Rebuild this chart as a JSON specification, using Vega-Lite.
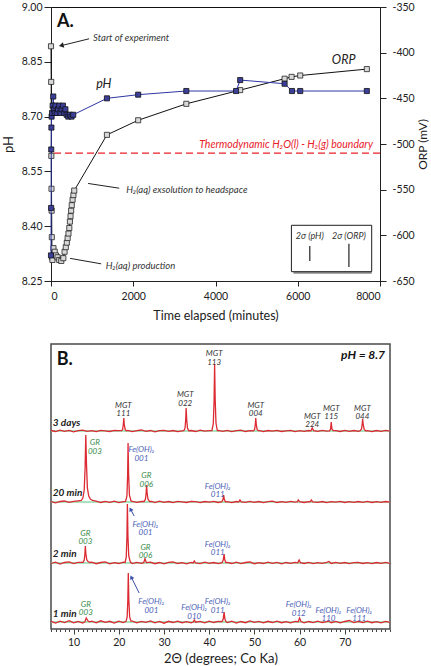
{
  "$schema": "https://vega.github.io/schema/vega-lite/v6.json",
  "padding": {"left": 1, "top": 1, "right": 0, "bottom": 0},
  "config": {
    "font": "Lato",
    "axis": {"grid": false, "labelFont": "Lato", "titleFont": "Lato", "labelColor": "#222", "titleColor": "#222", "tickColor": "#222", "domainColor": "#222"},
    "view": {"stroke": "#111"}
  },
  "datasets": {
    "ph": [
      {"t":0,"p":8.32},{"t":3,"p":8.45},{"t":6,"p":8.61},{"t":10,"p":8.67},{"t":15,"p":8.70},{"t":25,"p":8.71},{"t":40,"p":8.73},{"t":55,"p":8.755},{"t":70,"p":8.72},{"t":90,"p":8.71},{"t":110,"p":8.73},{"t":140,"p":8.71},{"t":170,"p":8.72},{"t":200,"p":8.73},{"t":230,"p":8.71},{"t":260,"p":8.72},{"t":290,"p":8.73},{"t":320,"p":8.71},{"t":350,"p":8.72},{"t":380,"p":8.705},{"t":420,"p":8.70},{"t":460,"p":8.705},{"t":500,"p":8.70},{"t":540,"p":8.705},{"t":1360,"p":8.75},{"t":2120,"p":8.76},{"t":3290,"p":8.77},{"t":4500,"p":8.77},{"t":4600,"p":8.80},{"t":5680,"p":8.79},{"t":5860,"p":8.77},{"t":6060,"p":8.77},{"t":7680,"p":8.77}
    ],
    "orp": [
      {"t":0,"o":-393},{"t":5,"o":-432},{"t":8,"o":-513},{"t":12,"o":-549},{"t":16,"o":-573},{"t":20,"o":-602},{"t":25,"o":-624},{"t":35,"o":-627},{"t":60,"o":-614},{"t":90,"o":-618},{"t":120,"o":-622},{"t":160,"o":-624},{"t":200,"o":-627},{"t":250,"o":-628},{"t":300,"o":-625},{"t":330,"o":-618},{"t":360,"o":-613},{"t":385,"o":-608},{"t":405,"o":-603},{"t":425,"o":-598},{"t":445,"o":-592},{"t":460,"o":-585},{"t":475,"o":-579},{"t":490,"o":-573},{"t":505,"o":-567},{"t":525,"o":-561},{"t":545,"o":-556},{"t":565,"o":-551},{"t":1360,"o":-490},{"t":2120,"o":-474},{"t":3290,"o":-456},{"t":4600,"o":-441},{"t":5680,"o":-428.5},{"t":5850,"o":-426.5},{"t":6060,"o":-425},{"t":7680,"o":-418}
    ],
    "A_letter": [{"t":146,"p":8.959,"txt":"A."}],
    "A_notes": [{"t":1024,"p":8.916,"txt":"Start of experiment"},{"t":1829,"p":8.498,"txt":"H₂(aq) exsolution to headspace"},{"t":1334,"p":8.291,"txt":"H₂(aq) production"}],
    "A_series": [{"t":1098,"p":8.79,"txt":"pH"},{"t":6829,"p":8.854,"txt":"ORP"}],
    "A_bound": [{"t":7829,"p":8.6215,"txt":"Thermodynamic H₂O(l) - H₂(g) boundary"}],
    "A_hline": [{"p":8.6}],
    "A_leaders": [{"t":927,"p":8.913,"t2":260,"p2":8.8945},{"t":902,"p":8.517,"t2":1659,"p2":8.504},{"t":463,"p":8.312,"t2":1220,"p2":8.297}],
    "A_head": [{"t":250,"p":8.8945}],
    "A_box": [{"t":5846,"t2":7798,"p":8.2755,"p2":8.4025}],
    "A_sig_txt": [{"t":6293,"p":8.373,"txt":"2σ (pH)"},{"t":7244,"p":8.373,"txt":"2σ (ORP)"}],
    "A_sig_bar": [{"t":6293,"p":8.305,"p2":8.346},{"t":7244,"p":8.288,"p2":8.352}],
    "xrd": [
      {"s":"3d","x":5,"y":0.5},{"s":"3d","x":6,"y":-0.5},{"s":"3d","x":7,"y":0.8},{"s":"3d","x":8,"y":-0.3},{"s":"3d","x":9,"y":0.6},{"s":"3d","x":10,"y":-0.8},{"s":"3d","x":11,"y":0.4},{"s":"3d","x":12,"y":0.9},{"s":"3d","x":13,"y":-0.4},{"s":"3d","x":14,"y":0.3},{"s":"3d","x":15,"y":-0.7},{"s":"3d","x":16,"y":0.6},{"s":"3d","x":17,"y":0.2},{"s":"3d","x":18,"y":-0.5},{"s":"3d","x":19,"y":0.7},{"s":"3d","x":20,"y":0.3},
      {"s":"3d","x":20.6,"y":0.3},{"s":"3d","x":20.85,"y":1.6},{"s":"3d","x":21.0,"y":6.5},{"s":"3d","x":21.1,"y":13},{"s":"3d","x":21.22,"y":6.5},{"s":"3d","x":21.4,"y":1.6},{"s":"3d","x":21.65,"y":0.2},
      {"s":"3d","x":22,"y":0.6},{"s":"3d","x":23,"y":-0.6},{"s":"3d","x":24,"y":0.4},{"s":"3d","x":25,"y":1.0},{"s":"3d","x":26,"y":-0.3},{"s":"3d","x":27,"y":0.5},{"s":"3d","x":28,"y":-0.8},{"s":"3d","x":29,"y":0.3},{"s":"3d","x":30,"y":0.7},{"s":"3d","x":31,"y":-0.4},{"s":"3d","x":32,"y":0.5},{"s":"3d","x":33,"y":-0.6},{"s":"3d","x":34,"y":0.2},
      {"s":"3d","x":34.4,"y":0.4},{"s":"3d","x":34.65,"y":2.8},{"s":"3d","x":34.8,"y":11},{"s":"3d","x":34.9,"y":23},{"s":"3d","x":35.02,"y":11.5},{"s":"3d","x":35.2,"y":2.8},{"s":"3d","x":35.5,"y":0.3},
      {"s":"3d","x":36,"y":0.5},{"s":"3d","x":37,"y":-0.5},{"s":"3d","x":38,"y":0.8},{"s":"3d","x":39,"y":-0.2},{"s":"3d","x":40,"y":0.4},
      {"s":"3d","x":40.6,"y":0.5},{"s":"3d","x":40.9,"y":7},{"s":"3d","x":41.08,"y":30},{"s":"3d","x":41.2,"y":67},{"s":"3d","x":41.32,"y":32},{"s":"3d","x":41.5,"y":8},{"s":"3d","x":41.8,"y":0.5},
      {"s":"3d","x":42,"y":0.6},{"s":"3d","x":43,"y":-0.4},{"s":"3d","x":44,"y":0.7},{"s":"3d","x":45,"y":-0.6},{"s":"3d","x":46,"y":0.3},{"s":"3d","x":47,"y":0.8},{"s":"3d","x":48,"y":-0.5},{"s":"3d","x":49,"y":0.4},
      {"s":"3d","x":49.8,"y":0.2},{"s":"3d","x":50.05,"y":1.6},{"s":"3d","x":50.2,"y":6.5},{"s":"3d","x":50.3,"y":13},{"s":"3d","x":50.42,"y":6.5},{"s":"3d","x":50.6,"y":1.6},{"s":"3d","x":50.85,"y":0.3},
      {"s":"3d","x":51.2,"y":0.3},{"s":"3d","x":52,"y":-0.7},{"s":"3d","x":53,"y":0.5},{"s":"3d","x":54,"y":-0.2},{"s":"3d","x":55,"y":0.6},{"s":"3d","x":56,"y":-0.5},{"s":"3d","x":57,"y":0.2},{"s":"3d","x":58,"y":0.7},{"s":"3d","x":59,"y":-0.6},{"s":"3d","x":60,"y":0.4},{"s":"3d","x":61,"y":-0.3},{"s":"3d","x":62,"y":0.5},
      {"s":"3d","x":62.5,"y":0.2},{"s":"3d","x":62.8,"y":3},{"s":"3d","x":63.1,"y":0.4},
      {"s":"3d","x":64,"y":-0.4},{"s":"3d","x":65,"y":0.6},{"s":"3d","x":66,"y":-0.2},
      {"s":"3d","x":66.6,"y":0.2},{"s":"3d","x":66.85,"y":2},{"s":"3d","x":67.0,"y":9},{"s":"3d","x":67.15,"y":2},{"s":"3d","x":67.45,"y":0.3},
      {"s":"3d","x":68,"y":0.4},{"s":"3d","x":69,"y":-0.5},{"s":"3d","x":70,"y":0.6},{"s":"3d","x":71,"y":-0.3},{"s":"3d","x":72,"y":0.5},{"s":"3d","x":73,"y":-0.4},
      {"s":"3d","x":73.4,"y":0.3},{"s":"3d","x":73.7,"y":2},{"s":"3d","x":73.85,"y":7},{"s":"3d","x":73.95,"y":12},{"s":"3d","x":74.08,"y":6},{"s":"3d","x":74.3,"y":1.5},{"s":"3d","x":74.6,"y":0.2},
      {"s":"3d","x":75,"y":0.3},{"s":"3d","x":76,"y":-0.6},{"s":"3d","x":77,"y":0.5},{"s":"3d","x":78,"y":-0.3},{"s":"3d","x":79,"y":0.6},{"s":"3d","x":80,"y":-0.2},

      {"s":"20m","x":5,"y":0.3},{"s":"20m","x":6,"y":-0.8},{"s":"20m","x":7,"y":0.5},{"s":"20m","x":8,"y":1.0},{"s":"20m","x":9,"y":-0.4},{"s":"20m","x":10,"y":0.6},{"s":"20m","x":11,"y":1.2},
      {"s":"20m","x":11.7,"y":1.5},{"s":"20m","x":12.05,"y":4},{"s":"20m","x":12.35,"y":12},{"s":"20m","x":12.55,"y":35},{"s":"20m","x":12.7,"y":67},{"s":"20m","x":12.85,"y":38},{"s":"20m","x":13.05,"y":14},{"s":"20m","x":13.35,"y":6},{"s":"20m","x":13.7,"y":3},{"s":"20m","x":14.2,"y":1.5},
      {"s":"20m","x":15,"y":0.8},{"s":"20m","x":16,"y":-0.5},{"s":"20m","x":17,"y":0.6},{"s":"20m","x":18,"y":-0.3},{"s":"20m","x":19,"y":0.9},{"s":"20m","x":20,"y":-0.6},{"s":"20m","x":21,"y":0.4},
      {"s":"20m","x":21.5,"y":0.6},{"s":"20m","x":21.8,"y":6},{"s":"20m","x":21.95,"y":26},{"s":"20m","x":22.05,"y":59},{"s":"20m","x":22.17,"y":28},{"s":"20m","x":22.35,"y":7},{"s":"20m","x":22.7,"y":1},
      {"s":"20m","x":23,"y":0.7},{"s":"20m","x":24,"y":-0.4},{"s":"20m","x":25,"y":0.5},
      {"s":"20m","x":25.6,"y":0.5},{"s":"20m","x":25.9,"y":3},{"s":"20m","x":26.05,"y":9},{"s":"20m","x":26.15,"y":17},{"s":"20m","x":26.27,"y":9},{"s":"20m","x":26.45,"y":3},{"s":"20m","x":26.8,"y":0.5},
      {"s":"20m","x":27.3,"y":0.6},{"s":"20m","x":28,"y":-0.5},{"s":"20m","x":29,"y":0.8},{"s":"20m","x":30,"y":-0.3},{"s":"20m","x":31,"y":0.5},{"s":"20m","x":32,"y":-0.7},{"s":"20m","x":33,"y":0.6},{"s":"20m","x":34,"y":0.2},{"s":"20m","x":35,"y":-0.5},{"s":"20m","x":36,"y":0.7},{"s":"20m","x":37,"y":0.3},{"s":"20m","x":38,"y":-0.6},{"s":"20m","x":39,"y":0.5},{"s":"20m","x":40,"y":-0.2},{"s":"20m","x":41,"y":0.7},{"s":"20m","x":42,"y":-0.5},
      {"s":"20m","x":42.8,"y":0.3},{"s":"20m","x":43.05,"y":2.5},{"s":"20m","x":43.2,"y":7},{"s":"20m","x":43.35,"y":2.5},{"s":"20m","x":43.6,"y":0.2},
      {"s":"20m","x":44,"y":0.4},{"s":"20m","x":45,"y":-0.6},{"s":"20m","x":46,"y":0.5},
      {"s":"20m","x":46.55,"y":0.2},{"s":"20m","x":46.8,"y":2},{"s":"20m","x":47.1,"y":0.1},
      {"s":"20m","x":48,"y":-0.4},{"s":"20m","x":49,"y":0.6},{"s":"20m","x":50,"y":-0.3},{"s":"20m","x":51,"y":0.5},{"s":"20m","x":52,"y":-0.6},{"s":"20m","x":53,"y":0.4},{"s":"20m","x":54,"y":0.8},{"s":"20m","x":55,"y":-0.5},{"s":"20m","x":56,"y":0.3},{"s":"20m","x":57,"y":-0.4},{"s":"20m","x":58,"y":0.6},{"s":"20m","x":59,"y":-0.2},
      {"s":"20m","x":59.45,"y":0},{"s":"20m","x":59.7,"y":2},{"s":"20m","x":60.0,"y":0.3},
      {"s":"20m","x":61,"y":-0.5},{"s":"20m","x":62,"y":0.4},
      {"s":"20m","x":62.35,"y":0.2},{"s":"20m","x":62.6,"y":2},{"s":"20m","x":62.9,"y":0.1},
      {"s":"20m","x":64,"y":-0.3},{"s":"20m","x":65,"y":0.5},{"s":"20m","x":66,"y":-0.6},{"s":"20m","x":67,"y":0.4},{"s":"20m","x":68,"y":-0.2},{"s":"20m","x":69,"y":0.6},{"s":"20m","x":70,"y":-0.5},{"s":"20m","x":71,"y":0.3},{"s":"20m","x":72,"y":-0.4},{"s":"20m","x":73,"y":0.5},{"s":"20m","x":74,"y":-0.3},{"s":"20m","x":75,"y":0.6},{"s":"20m","x":76,"y":-0.5},{"s":"20m","x":77,"y":0.3},{"s":"20m","x":78,"y":-0.4},{"s":"20m","x":79,"y":0.5},{"s":"20m","x":80,"y":-0.2},

      {"s":"2m","x":5,"y":-0.5},{"s":"2m","x":6,"y":0.8},{"s":"2m","x":7,"y":-1.0},{"s":"2m","x":8,"y":0.5},{"s":"2m","x":9,"y":1.2},{"s":"2m","x":10,"y":-0.6},{"s":"2m","x":11,"y":0.7},
      {"s":"2m","x":12.1,"y":0.6},{"s":"2m","x":12.35,"y":3},{"s":"2m","x":12.5,"y":9},{"s":"2m","x":12.6,"y":17},{"s":"2m","x":12.72,"y":9},{"s":"2m","x":12.9,"y":3.5},{"s":"2m","x":13.2,"y":1.5},{"s":"2m","x":13.6,"y":0.5},
      {"s":"2m","x":14,"y":0.8},{"s":"2m","x":15,"y":-0.7},{"s":"2m","x":16,"y":0.5},{"s":"2m","x":17,"y":1.1},{"s":"2m","x":18,"y":-0.8},{"s":"2m","x":19,"y":0.4},{"s":"2m","x":20,"y":-0.5},{"s":"2m","x":21,"y":0.9},
      {"s":"2m","x":21.4,"y":0.5},{"s":"2m","x":21.65,"y":6},{"s":"2m","x":21.8,"y":26},{"s":"2m","x":21.9,"y":59},{"s":"2m","x":22.02,"y":27},{"s":"2m","x":22.2,"y":7},{"s":"2m","x":22.55,"y":1},
      {"s":"2m","x":23,"y":-0.6},{"s":"2m","x":24,"y":0.7},{"s":"2m","x":25,"y":-0.4},
      {"s":"2m","x":25.5,"y":0.3},{"s":"2m","x":25.8,"y":4.3},{"s":"2m","x":26.1,"y":0.4},
      {"s":"2m","x":27,"y":0.8},{"s":"2m","x":28,"y":-0.7},{"s":"2m","x":29,"y":0.5},{"s":"2m","x":30,"y":-0.9},{"s":"2m","x":31,"y":0.6},{"s":"2m","x":32,"y":1.0},{"s":"2m","x":33,"y":-0.5},{"s":"2m","x":34,"y":0.4},{"s":"2m","x":35,"y":-0.8},{"s":"2m","x":36,"y":0.6},
      {"s":"2m","x":36.45,"y":0.1},{"s":"2m","x":36.7,"y":2},{"s":"2m","x":37.0,"y":0},
      {"s":"2m","x":38,"y":-0.6},{"s":"2m","x":39,"y":0.9},{"s":"2m","x":40,"y":-0.4},{"s":"2m","x":41,"y":0.5},{"s":"2m","x":42,"y":-0.7},
      {"s":"2m","x":42.85,"y":0.3},{"s":"2m","x":43.1,"y":3},{"s":"2m","x":43.3,"y":9},{"s":"2m","x":43.45,"y":3},{"s":"2m","x":43.7,"y":0.4},
      {"s":"2m","x":44,"y":0.7},{"s":"2m","x":45,"y":-0.5},{"s":"2m","x":46,"y":0.8},{"s":"2m","x":47,"y":-0.6},{"s":"2m","x":48,"y":0.5},{"s":"2m","x":49,"y":1.0},{"s":"2m","x":50,"y":-0.7},{"s":"2m","x":51,"y":0.4},{"s":"2m","x":52,"y":-0.5},{"s":"2m","x":53,"y":0.8},{"s":"2m","x":54,"y":-0.4},{"s":"2m","x":55,"y":0.6},{"s":"2m","x":56,"y":-0.8},{"s":"2m","x":57,"y":0.5},{"s":"2m","x":58,"y":-0.3},{"s":"2m","x":59,"y":0.7},
      {"s":"2m","x":59.6,"y":0.2},{"s":"2m","x":59.9,"y":3},{"s":"2m","x":60.2,"y":0.3},
      {"s":"2m","x":61,"y":-0.5},{"s":"2m","x":62,"y":0.6},{"s":"2m","x":63,"y":-0.7},{"s":"2m","x":64,"y":0.4},{"s":"2m","x":65,"y":-0.3},{"s":"2m","x":66,"y":0.6},{"s":"2m","x":66.5,"y":1.5},{"s":"2m","x":67,"y":-0.5},{"s":"2m","x":68,"y":0.7},{"s":"2m","x":69,"y":-0.4},{"s":"2m","x":70,"y":0.5},{"s":"2m","x":71,"y":-0.6},{"s":"2m","x":72,"y":0.3},{"s":"2m","x":73,"y":0.7},{"s":"2m","x":74,"y":-0.5},{"s":"2m","x":75,"y":0.4},{"s":"2m","x":76,"y":-0.6},{"s":"2m","x":77,"y":0.5},{"s":"2m","x":78,"y":-0.4},{"s":"2m","x":79,"y":0.6},{"s":"2m","x":80,"y":-0.3},

      {"s":"1m","x":5,"y":0.6},{"s":"1m","x":6,"y":-1.0},{"s":"1m","x":7,"y":0.9},{"s":"1m","x":8,"y":-0.5},{"s":"1m","x":9,"y":1.3},{"s":"1m","x":10,"y":-0.8},{"s":"1m","x":11,"y":0.5},{"s":"1m","x":12,"y":-1.1},
      {"s":"1m","x":12.5,"y":0.3},{"s":"1m","x":12.8,"y":4},{"s":"1m","x":13.2,"y":1},{"s":"1m","x":13.5,"y":0.2},
      {"s":"1m","x":14,"y":0.8},{"s":"1m","x":15,"y":-0.9},{"s":"1m","x":16,"y":1.2},{"s":"1m","x":17,"y":-0.4},{"s":"1m","x":18,"y":0.7},{"s":"1m","x":19,"y":-1.0},{"s":"1m","x":20,"y":0.9},{"s":"1m","x":21,"y":-0.6},
      {"s":"1m","x":21.6,"y":0.6},{"s":"1m","x":21.85,"y":5},{"s":"1m","x":22.0,"y":22},{"s":"1m","x":22.1,"y":49},{"s":"1m","x":22.22,"y":22},{"s":"1m","x":22.4,"y":5},{"s":"1m","x":22.7,"y":0.8},
      {"s":"1m","x":23,"y":0.8},{"s":"1m","x":24,"y":-0.9},{"s":"1m","x":25,"y":0.6},{"s":"1m","x":26,"y":-0.4},{"s":"1m","x":27,"y":1.1},{"s":"1m","x":28,"y":-0.8},{"s":"1m","x":29,"y":0.5},{"s":"1m","x":30,"y":-1.2},{"s":"1m","x":31,"y":0.7},{"s":"1m","x":32,"y":-0.5},{"s":"1m","x":33,"y":0.9},{"s":"1m","x":34,"y":-0.7},{"s":"1m","x":35,"y":0.4},{"s":"1m","x":36,"y":-0.9},
      {"s":"1m","x":36.45,"y":0},{"s":"1m","x":36.7,"y":2},{"s":"1m","x":37.0,"y":-0.2},
      {"s":"1m","x":38,"y":0.6},{"s":"1m","x":39,"y":-0.8},{"s":"1m","x":40,"y":0.9},{"s":"1m","x":41,"y":-0.5},{"s":"1m","x":42,"y":0.7},
      {"s":"1m","x":42.85,"y":0.4},{"s":"1m","x":43.1,"y":3},{"s":"1m","x":43.3,"y":10},{"s":"1m","x":43.45,"y":3.5},{"s":"1m","x":43.7,"y":0.3},
      {"s":"1m","x":44,"y":-0.6},{"s":"1m","x":45,"y":0.8},{"s":"1m","x":46,"y":-1.0},{"s":"1m","x":47,"y":0.5},{"s":"1m","x":48,"y":-0.7},{"s":"1m","x":49,"y":1.0},{"s":"1m","x":50,"y":-0.4},{"s":"1m","x":51,"y":0.6},{"s":"1m","x":52,"y":-0.9},{"s":"1m","x":53,"y":0.7},{"s":"1m","x":54,"y":-0.5},{"s":"1m","x":55,"y":0.8},{"s":"1m","x":56,"y":-0.7},{"s":"1m","x":57,"y":0.4},{"s":"1m","x":58,"y":-0.9},{"s":"1m","x":59,"y":0.6},
      {"s":"1m","x":59.7,"y":0.3},{"s":"1m","x":60.0,"y":4},{"s":"1m","x":60.3,"y":0.5},
      {"s":"1m","x":61,"y":-0.8},{"s":"1m","x":62,"y":0.5},{"s":"1m","x":63,"y":-0.6},{"s":"1m","x":64,"y":0.9},{"s":"1m","x":65,"y":-0.5},{"s":"1m","x":66,"y":0.3},{"s":"1m","x":66.4,"y":1.2},{"s":"1m","x":67,"y":-0.7},{"s":"1m","x":68,"y":0.6},{"s":"1m","x":69,"y":-0.8},{"s":"1m","x":70,"y":0.5},{"s":"1m","x":71,"y":1.5},{"s":"1m","x":72,"y":-0.6},{"s":"1m","x":73,"y":0.7},{"s":"1m","x":74,"y":-0.5},{"s":"1m","x":75,"y":0.8},{"s":"1m","x":76,"y":-0.7},{"s":"1m","x":77,"y":0.4},{"s":"1m","x":78,"y":-0.8},{"s":"1m","x":79,"y":0.6},{"s":"1m","x":80,"y":-0.4}
    ],
    "B_MGT": [{"x":21.0,"y":223.1,"txt":"MGT\n111"},{"x":34.7,"y":234,"txt":"MGT\n022"},{"x":41.1,"y":274.7,"txt":"MGT\n113"},{"x":50.3,"y":223.1,"txt":"MGT\n004"},{"x":62.8,"y":212.2,"txt":"MGT\n224"},{"x":67.0,"y":220.5,"txt":"MGT\n115"},{"x":73.9,"y":220.5,"txt":"MGT\n044"}],
    "B_GR": [{"x":14.7,"y":185.7,"txt":"GR\n003"},{"x":26.1,"y":153,"txt":"GR\n006"},{"x":12.6,"y":95.5,"txt":"GR\n003"},{"x":25.9,"y":81.3,"txt":"GR\n006"},{"x":12.7,"y":24.5,"txt":"GR\n003"}],
    "B_Fe": [{"x":25.0,"y":179,"txt":"Fe(OH)₂\n001"},{"x":41.9,"y":142.5,"txt":"Fe(OH)₂\n011"},{"x":25.9,"y":104.5,"txt":"Fe(OH)₂\n001"},{"x":41.9,"y":84.5,"txt":"Fe(OH)₂\n011"},{"x":27.2,"y":27,"txt":"Fe(OH)₂\n001"},{"x":36.7,"y":21,"txt":"Fe(OH)₂\n010"},{"x":41.9,"y":27,"txt":"Fe(OH)₂\n011"},{"x":59.8,"y":24,"txt":"Fe(OH)₂\n012"},{"x":66.4,"y":18.5,"txt":"Fe(OH)₂\n110"},{"x":73.2,"y":18.5,"txt":"Fe(OH)₂\n111"}],
    "B_arrows": [{"x":23.4,"y":113,"x2":22.6,"y2":119.8},{"x":24.5,"y":36,"x2":22.77,"y2":51.8}],
    "B_heads": [{"x":22.6,"y":119.8},{"x":22.77,"y":51.8}],
    "B_names": [{"x":5.4,"y":206,"txt":"3 days"},{"x":5.4,"y":136,"txt":"20 min"},{"x":5.4,"y":75,"txt":"2 min"},{"x":5.4,"y":15,"txt":"1 min"}],
    "B_letter": [{"x":6.26,"y":269.5,"txt":"B."}],
    "B_ph": [{"x":78.9,"y":273.7,"txt":"pH = 8.7"}]
  },
  "bounds": "flush",
  "spacing": 63,
  "vconcat": [
    {
      "width": 329,
      "height": 274,
      "resolve": {"scale": {"y": "independent"}, "axis": {"x": "independent"}},
      "layer": [
        {
          "data": {"name": "orp"},
          "mark": {"type": "line", "color": "#111", "strokeWidth": 1},
          "encoding": {
            "x": {"field": "t", "type": "quantitative", "scale": {"domain": [0, 8000], "nice": false, "zero": false},
              "axis": {"orient": "bottom", "values": [0, 2000, 4000, 6000, 8000], "format": "d", "tickSize": 5, "labelFontSize": 10.5, "labelPadding": 5, "title": "Time elapsed (minutes)", "titleFontSize": 12.5, "titleFontWeight": "normal", "titlePadding": 8}},
            "y": {"field": "o", "type": "quantitative", "scale": {"domain": [-650, -350], "nice": false, "zero": false},
              "axis": {"orient": "right", "values": [-650, -600, -550, -500, -450, -400, -350], "labelExpr": "'' + datum.value", "tickSize": 6, "labelPadding": 6, "labelFontSize": 10.5, "title": "ORP (mV)", "titleAngle": 270, "titleBaseline": "top", "titleFontSize": 12, "titleFontWeight": "normal", "titlePadding": 3}}
          }
        },
        {
          "data": {"name": "orp"},
          "mark": {"type": "point", "shape": "square", "filled": true, "fill": "#d9d9d9", "stroke": "#222", "strokeWidth": 0.8, "size": 26, "opacity": 1},
          "encoding": {
            "x": {"field": "t", "type": "quantitative", "scale": {"domain": [0, 8000], "nice": false, "zero": false}, "axis": null},
            "y": {"field": "o", "type": "quantitative", "scale": {"domain": [-650, -350], "nice": false, "zero": false}, "axis": null}
          }
        },
        {
          "data": {"name": "ph"},
          "mark": {"type": "line", "color": "#2e36a3", "strokeWidth": 1},
          "encoding": {
            "x": {"field": "t", "type": "quantitative", "scale": {"domain": [0, 8000], "nice": false, "zero": false}, "axis": null},
            "y": {"field": "p", "type": "quantitative", "scale": {"domain": [8.25, 9.0], "nice": false, "zero": false},
              "axis": {"orient": "left", "values": [8.25, 8.4, 8.55, 8.7, 8.85, 9.0], "format": ".2f", "tickSize": 7, "labelFontSize": 10.5, "labelPadding": 2, "title": "pH", "titleFontSize": 13, "titleFontWeight": "normal", "titlePadding": 6}}
          }
        },
        {
          "data": {"name": "ph"},
          "mark": {"type": "point", "shape": "square", "filled": true, "fill": "#3c3f99", "stroke": "#111", "strokeWidth": 0.8, "size": 26, "opacity": 1},
          "encoding": {
            "x": {"field": "t", "type": "quantitative", "scale": {"domain": [0, 8000], "nice": false, "zero": false}, "axis": null},
            "y": {"field": "p", "type": "quantitative", "scale": {"domain": [8.25, 9.0], "nice": false, "zero": false}, "axis": null}
          }
        },
        {
          "data": {"name": "A_hline"},
          "mark": {"type": "rule", "color": "#e8202a", "strokeWidth": 1.2, "strokeDash": [7, 4]},
          "encoding": {
            "y": {"field": "p", "type": "quantitative", "scale": {"domain": [8.25, 9.0], "nice": false, "zero": false}, "axis": null}
          }
        },
        {
          "data": {"name": "A_bound"},
          "mark": {"type": "text", "align": "right", "baseline": "middle", "fontStyle": "italic", "fontSize": 10.5, "color": "#e8202a"},
          "encoding": {
            "x": {"field": "t", "type": "quantitative", "scale": {"domain": [0, 8000], "nice": false, "zero": false}, "axis": null},
            "y": {"field": "p", "type": "quantitative", "scale": {"domain": [8.25, 9.0], "nice": false, "zero": false}, "axis": null},
            "text": {"field": "txt"}
          }
        },
        {
          "data": {"name": "A_box"},
          "mark": {"type": "rect", "fill": "#8c8c8c", "xOffset": 2, "yOffset": 2},
          "encoding": {
            "x": {"field": "t", "type": "quantitative", "scale": {"domain": [0, 8000], "nice": false, "zero": false}, "axis": null},
            "x2": {"field": "t2"},
            "y": {"field": "p", "type": "quantitative", "scale": {"domain": [8.25, 9.0], "nice": false, "zero": false}, "axis": null},
            "y2": {"field": "p2"}
          }
        },
        {
          "data": {"name": "A_box"},
          "mark": {"type": "rect", "fill": "#ffffff", "stroke": "#222", "strokeWidth": 1},
          "encoding": {
            "x": {"field": "t", "type": "quantitative", "scale": {"domain": [0, 8000], "nice": false, "zero": false}, "axis": null},
            "x2": {"field": "t2"},
            "y": {"field": "p", "type": "quantitative", "scale": {"domain": [8.25, 9.0], "nice": false, "zero": false}, "axis": null},
            "y2": {"field": "p2"}
          }
        },
        {
          "data": {"name": "A_sig_txt"},
          "mark": {"type": "text", "align": "center", "baseline": "middle", "fontStyle": "italic", "fontSize": 9, "color": "#333"},
          "encoding": {
            "x": {"field": "t", "type": "quantitative", "scale": {"domain": [0, 8000], "nice": false, "zero": false}, "axis": null},
            "y": {"field": "p", "type": "quantitative", "scale": {"domain": [8.25, 9.0], "nice": false, "zero": false}, "axis": null},
            "text": {"field": "txt"}
          }
        },
        {
          "data": {"name": "A_sig_bar"},
          "mark": {"type": "rule", "color": "#222", "strokeWidth": 1.2},
          "encoding": {
            "x": {"field": "t", "type": "quantitative", "scale": {"domain": [0, 8000], "nice": false, "zero": false}, "axis": null},
            "y": {"field": "p", "type": "quantitative", "scale": {"domain": [8.25, 9.0], "nice": false, "zero": false}, "axis": null},
            "y2": {"field": "p2"}
          }
        },
        {
          "data": {"name": "A_leaders"},
          "mark": {"type": "rule", "color": "#222", "strokeWidth": 1},
          "encoding": {
            "x": {"field": "t", "type": "quantitative", "scale": {"domain": [0, 8000], "nice": false, "zero": false}, "axis": null},
            "x2": {"field": "t2"},
            "y": {"field": "p", "type": "quantitative", "scale": {"domain": [8.25, 9.0], "nice": false, "zero": false}, "axis": null},
            "y2": {"field": "p2"}
          }
        },
        {
          "data": {"name": "A_head"},
          "mark": {"type": "point", "shape": "triangle-right", "filled": true, "color": "#222", "size": 30, "angle": 166, "opacity": 1},
          "encoding": {
            "x": {"field": "t", "type": "quantitative", "scale": {"domain": [0, 8000], "nice": false, "zero": false}, "axis": null},
            "y": {"field": "p", "type": "quantitative", "scale": {"domain": [8.25, 9.0], "nice": false, "zero": false}, "axis": null}
          }
        },
        {
          "data": {"name": "A_notes"},
          "mark": {"type": "text", "align": "left", "baseline": "middle", "fontStyle": "italic", "fontSize": 9.5, "color": "#333"},
          "encoding": {
            "x": {"field": "t", "type": "quantitative", "scale": {"domain": [0, 8000], "nice": false, "zero": false}, "axis": null},
            "y": {"field": "p", "type": "quantitative", "scale": {"domain": [8.25, 9.0], "nice": false, "zero": false}, "axis": null},
            "text": {"field": "txt"}
          }
        },
        {
          "data": {"name": "A_series"},
          "mark": {"type": "text", "align": "left", "baseline": "middle", "fontStyle": "italic", "fontSize": 12.5, "color": "#222"},
          "encoding": {
            "x": {"field": "t", "type": "quantitative", "scale": {"domain": [0, 8000], "nice": false, "zero": false}, "axis": null},
            "y": {"field": "p", "type": "quantitative", "scale": {"domain": [8.25, 9.0], "nice": false, "zero": false}, "axis": null},
            "text": {"field": "txt"}
          }
        },
        {
          "data": {"name": "A_letter"},
          "mark": {"type": "text", "align": "left", "baseline": "middle", "fontWeight": "bold", "fontSize": 18, "color": "#111"},
          "encoding": {
            "x": {"field": "t", "type": "quantitative", "scale": {"domain": [0, 8000], "nice": false, "zero": false}, "axis": null},
            "y": {"field": "p", "type": "quantitative", "scale": {"domain": [8.25, 9.0], "nice": false, "zero": false}, "axis": null},
            "text": {"field": "txt"}
          }
        }
      ]
    },
    {
      "width": 339,
      "height": 285,
      "view": {"stroke": "#4a4a4a", "strokeWidth": 1.5},
      "resolve": {"axis": {"x": "independent"}},
      "layer": [
        {
          "data": {"name": "xrd"},
          "transform": [
            {"calculate": "datum.s=='3d'?198:datum.s=='20m'?127:datum.s=='2m'?66:7", "as": "off"},
            {"aggregate": [{"op": "min", "field": "x", "as": "x1"}, {"op": "max", "field": "x", "as": "x2"}], "groupby": ["off"]}
          ],
          "mark": {"type": "rule", "color": "#8fd8a8", "strokeWidth": 1.3},
          "encoding": {
            "x": {"field": "x1", "type": "quantitative", "scale": {"domain": [5, 80], "nice": false, "zero": false},
              "axis": {"orient": "bottom", "values": [5,6,7,8,9,10,11,12,13,14,15,16,17,18,19,20,21,22,23,24,25,26,27,28,29,30,31,32,33,34,35,36,37,38,39,40,41,42,43,44,45,46,47,48,49,50,51,52,53,54,55,56,57,58,59,60,61,62,63,64,65,66,67,68,69,70,71,72,73,74,75,76,77,78,79,80],
                "labels": false, "title": null, "tickSize": 2.5, "tickColor": "#444", "domain": false}},
            "x2": {"field": "x2"},
            "y": {"field": "off", "type": "quantitative", "scale": {"domain": [0, 285], "nice": false, "zero": false}, "axis": null}
          }
        },
        {
          "data": {"name": "xrd"},
          "transform": [
            {"calculate": "datum.s=='3d'?198:datum.s=='20m'?127:datum.s=='2m'?66:7", "as": "off"},
            {"calculate": "datum.y + datum.off", "as": "yy"}
          ],
          "mark": {"type": "line", "color": "#dc2a32", "strokeWidth": 1.3},
          "encoding": {
            "x": {"field": "x", "type": "quantitative", "scale": {"domain": [5, 80], "nice": false, "zero": false},
              "axis": {"orient": "bottom", "values": [10, 20, 30, 40, 50, 60, 70], "format": "d", "tickSize": 5, "tickColor": "#444", "domain": false, "labelFontSize": 10.5, "labelPadding": 3,
                "title": "2Θ (degrees; Co Ka)", "titleFontSize": 13, "titleFontWeight": "normal", "titlePadding": 5}},
            "y": {"field": "yy", "type": "quantitative", "scale": {"domain": [0, 285], "nice": false, "zero": false}, "axis": null},
            "detail": {"field": "s"}
          }
        },
        {
          "data": {"name": "B_MGT"},
          "mark": {"type": "text", "align": "center", "baseline": "middle", "fontStyle": "italic", "fontSize": 8, "lineHeight": 8.5, "lineBreak": "\n", "color": "#333"},
          "encoding": {"x": {"field": "x", "type": "quantitative", "axis": null}, "y": {"field": "y", "type": "quantitative"}, "text": {"field": "txt"}}
        },
        {
          "data": {"name": "B_GR"},
          "mark": {"type": "text", "align": "center", "baseline": "middle", "fontStyle": "italic", "fontSize": 8, "lineHeight": 8.5, "lineBreak": "\n", "color": "#3a8c4a"},
          "encoding": {"x": {"field": "x", "type": "quantitative", "axis": null}, "y": {"field": "y", "type": "quantitative"}, "text": {"field": "txt"}}
        },
        {
          "data": {"name": "B_Fe"},
          "mark": {"type": "text", "align": "center", "baseline": "middle", "fontStyle": "italic", "fontSize": 8, "lineHeight": 8.5, "lineBreak": "\n", "color": "#4c62b8"},
          "encoding": {"x": {"field": "x", "type": "quantitative", "axis": null}, "y": {"field": "y", "type": "quantitative"}, "text": {"field": "txt"}}
        },
        {
          "data": {"name": "B_arrows"},
          "mark": {"type": "rule", "color": "#3a50a8", "strokeWidth": 1},
          "encoding": {"x": {"field": "x", "type": "quantitative", "axis": null}, "x2": {"field": "x2"}, "y": {"field": "y", "type": "quantitative"}, "y2": {"field": "y2"}}
        },
        {
          "data": {"name": "B_heads"},
          "mark": {"type": "point", "shape": "triangle-right", "filled": true, "color": "#3a50a8", "size": 22, "angle": 242, "opacity": 1},
          "encoding": {"x": {"field": "x", "type": "quantitative", "axis": null}, "y": {"field": "y", "type": "quantitative"}}
        },
        {
          "data": {"name": "B_names"},
          "mark": {"type": "text", "align": "left", "baseline": "middle", "fontStyle": "italic", "fontWeight": "bold", "fontSize": 10, "color": "#222"},
          "encoding": {"x": {"field": "x", "type": "quantitative", "axis": null}, "y": {"field": "y", "type": "quantitative"}, "text": {"field": "txt"}}
        },
        {
          "data": {"name": "B_letter"},
          "mark": {"type": "text", "align": "left", "baseline": "middle", "fontWeight": "bold", "fontSize": 18, "color": "#111"},
          "encoding": {"x": {"field": "x", "type": "quantitative", "axis": null}, "y": {"field": "y", "type": "quantitative"}, "text": {"field": "txt"}}
        },
        {
          "data": {"name": "B_ph"},
          "mark": {"type": "text", "align": "right", "baseline": "middle", "fontStyle": "italic", "fontWeight": "bold", "fontSize": 12, "color": "#111"},
          "encoding": {"x": {"field": "x", "type": "quantitative", "axis": null}, "y": {"field": "y", "type": "quantitative"}, "text": {"field": "txt"}}
        }
      ]
    }
  ]
}
